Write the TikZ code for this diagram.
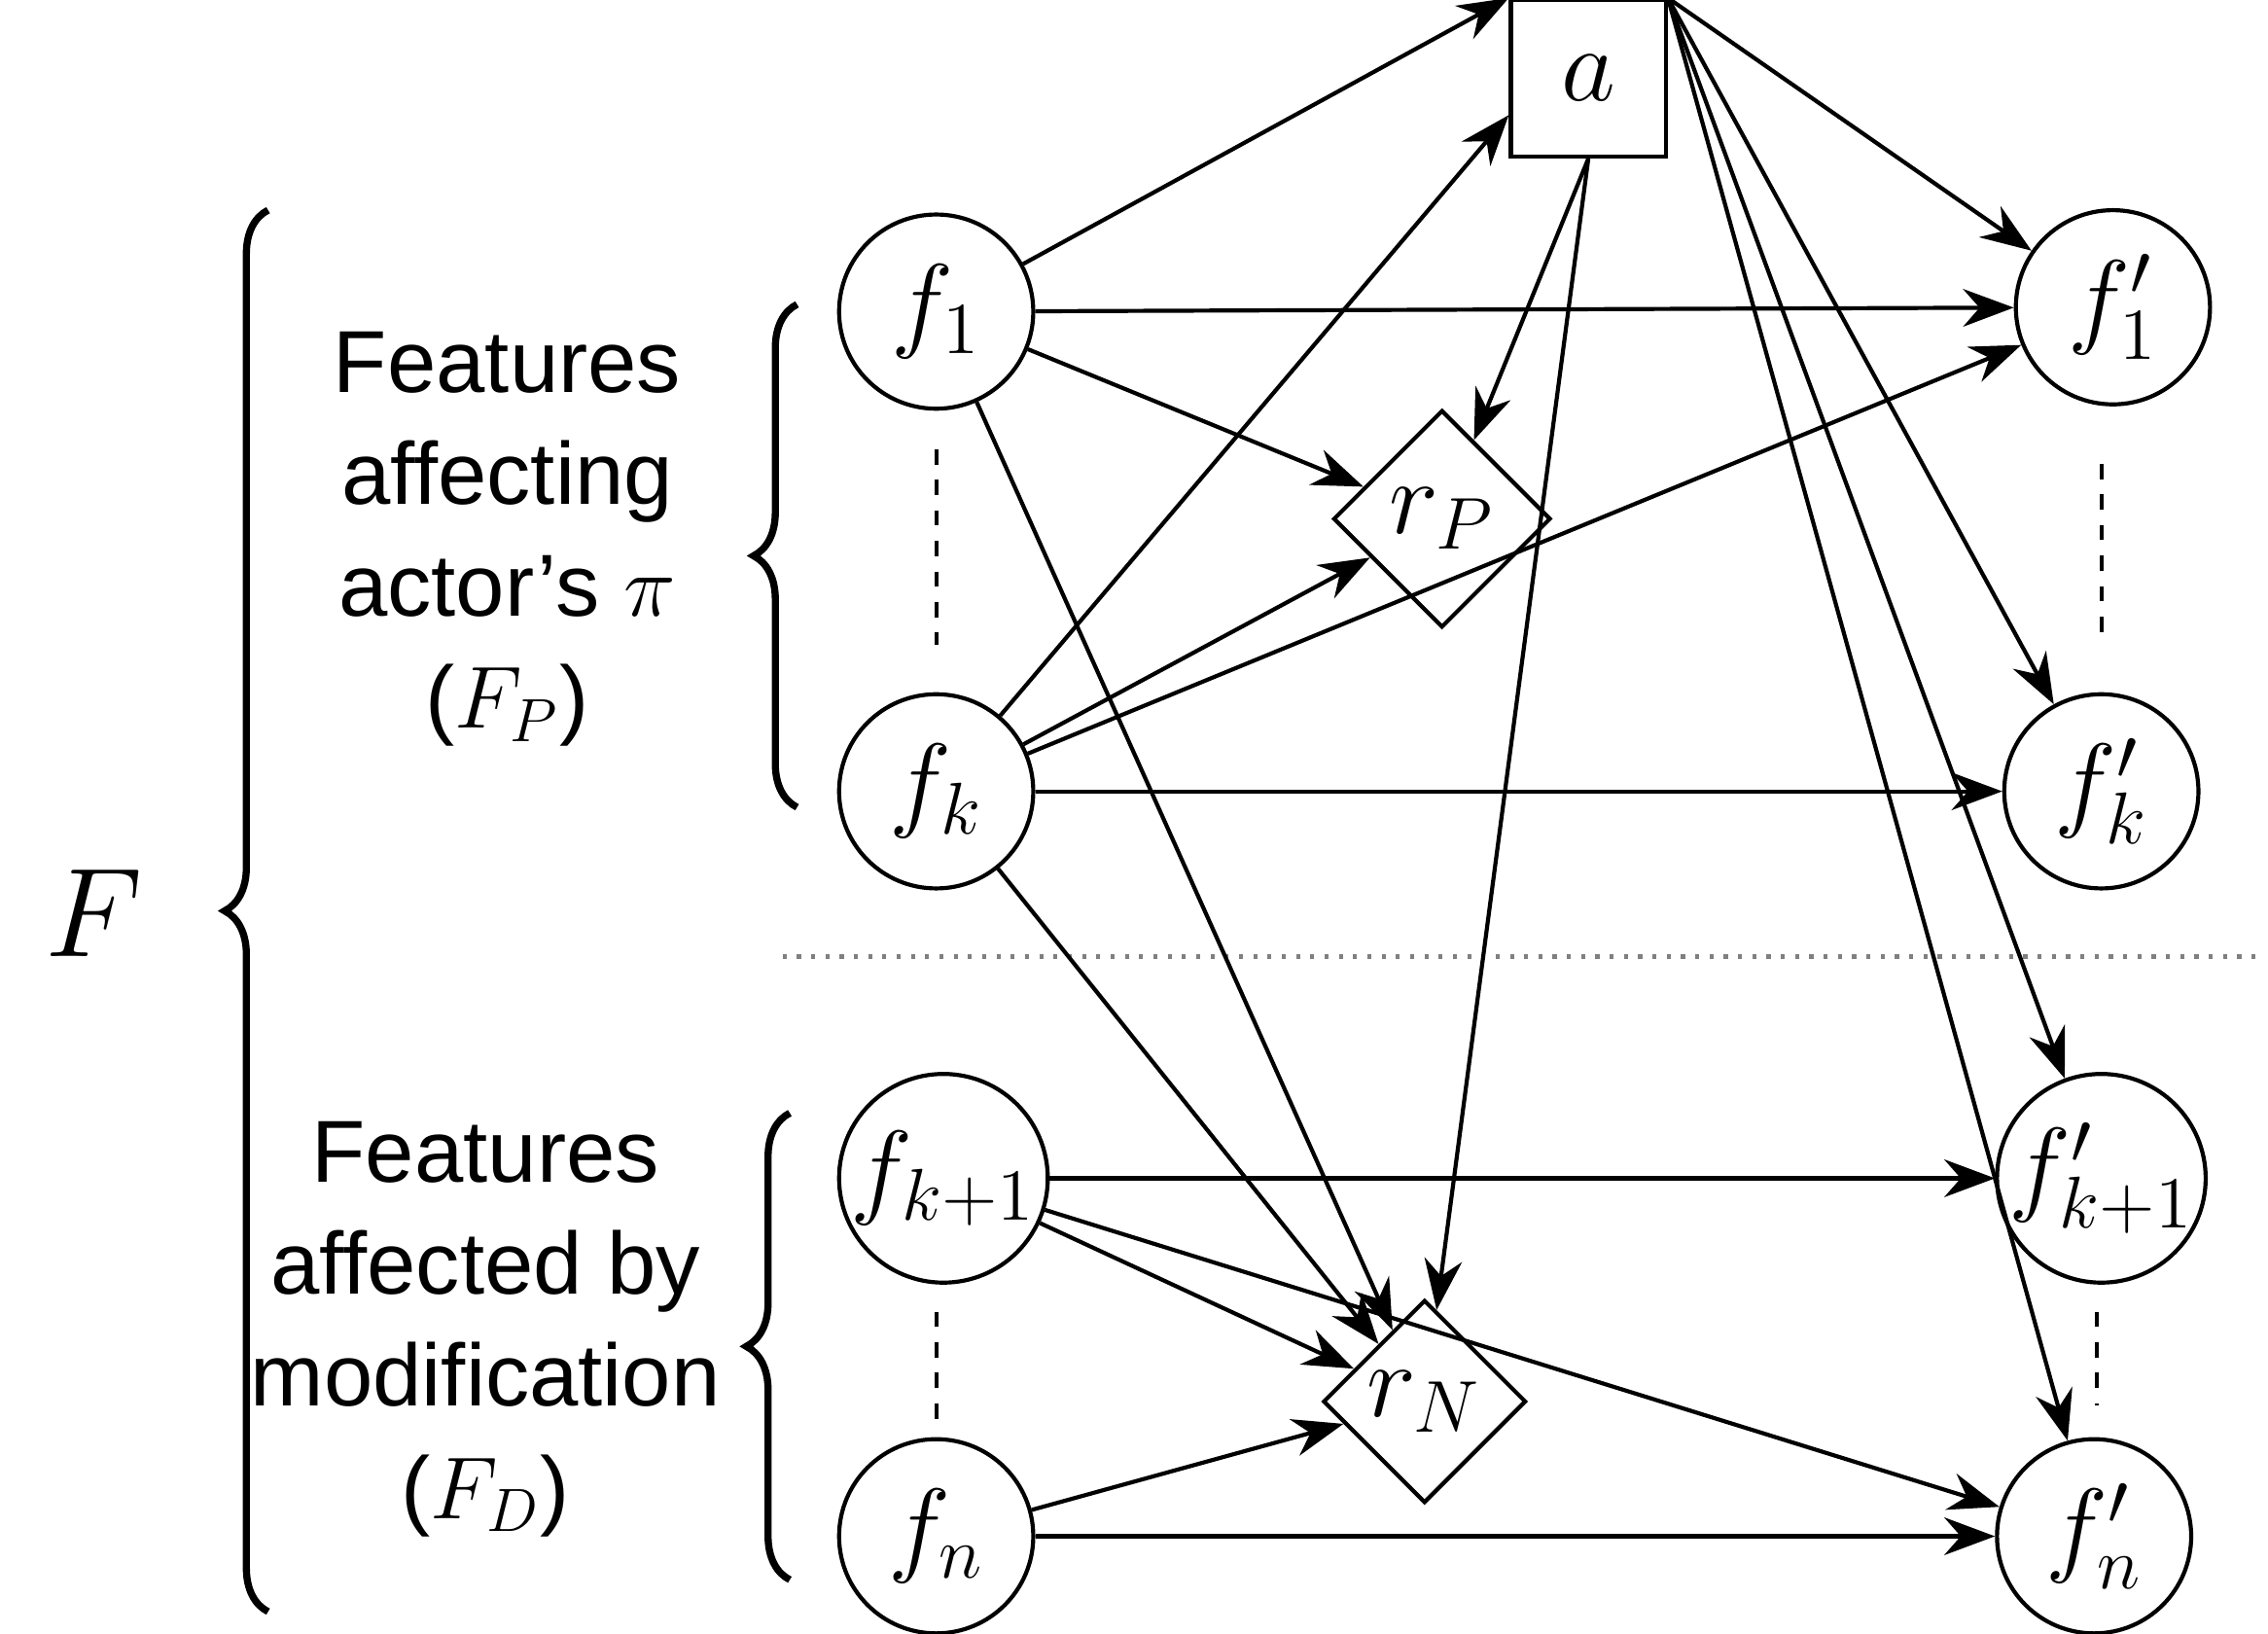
\documentclass[tikz,border=0pt]{standalone}
\usepackage{fontspec}
\setsansfont{Liberation Sans}
\usetikzlibrary{shapes.geometric,arrows.meta,decorations.pathreplacing}

\begin{document}
\begin{tikzpicture}[x=0.1mm,y=-0.1mm,
feat/.style={circle,draw,thick,minimum size=13.4mm,inner sep=0mm,font=\huge},
rew/.style={diamond,draw,thick,minimum size=15mm,inner sep=0mm,font=\huge},
act/.style={rectangle,draw,thick,minimum width=10.7mm,minimum height=10.8mm,font=\huge},
arr/.style={-{Stealth[length=3.5mm,width=2.6mm]},thick},
lab/.style={align=center,font=\sffamily\LARGE},
brc/.style={decorate,decoration={brace,amplitude=3mm},line width=1.4pt}
]
\useasboundingbox (0,0) rectangle (1565,1127);
% nodes
\node[act] (a) at (1096,54) {$a$};
\node[feat] (f1) at (646,215) {$f_1$};
\node[feat] (fk) at (646,546) {$f_k$};
\node[feat,minimum size=14.4mm] (fk1) at (651,813) {$f_{k+1}$};
\node[feat] (fn) at (646,1060) {$f_n$};
\node[feat] (g1) at (1458,212) {$f'_1$};
\node[feat] (gk) at (1450,546) {$f'_k$};
\node[feat,minimum size=14.4mm,inner sep=-2mm] (gk1) at (1450,813) {$f'_{k+1}$};
\node[feat] (gn) at (1445,1060) {$f'_n$};
\node[rew] (rp) at (995,358) {$r_P$};
\node[rew,minimum size=14mm] (rn) at (983,967) {$r_N$};
% dashed separators
\draw[dashed,thick] (646,310) -- (646,445);
\draw[dashed,thick] (1450,320) -- (1450,440);
\draw[dashed,thick] (646,905) -- (646,980);
\draw[dashed,thick] (1447,905) -- (1447,970);
\draw[dotted,thick,gray] (540,660) -- (1560,660);
% braces and labels
\draw[brc] (185,1112) -- (185,145);
\node[font=\Huge] (F) at (65,630) {$F$};
\draw[brc] (550,557) -- (550,210);
\node[lab] (lp) at (350,372) {Features\\affecting\\actor's $\pi$\\($F_P$)};
\draw[brc] (545,1090) -- (545,768);
\node[lab] (ld) at (335,917) {Features\\affected by\\modification\\($F_D$)};
% edges
\draw[arr] (f1) -- (a.north west);
\draw[arr] (f1) -- (g1);
\draw[arr] (f1) -- (rp);
\draw[arr] (f1) -- (rn);
\draw[arr] (fk) -- ([yshift=3mm]a.south west);
\draw[arr] (fk) -- (rp);
\draw[arr] (fk) -- (g1);
\draw[arr] (fk) -- (gk);
\draw[arr] (fk) -- (rn);
\draw[arr] (fk1) -- (gk1);
\draw[arr] (fk1) -- (rn);
\draw[arr] (fk1) -- (gn);
\draw[arr] (fn) -- (rn);
\draw[arr] (fn) -- (gn);
\draw[arr] (a.south) -- (rp);
\draw[arr] (a.south) -- (rn);
\draw[arr] (a.north east) -- (g1);
\draw[arr] (a.north east) -- (gk);
\draw[arr] (a.north east) -- (gk1);
\draw[arr] (a.north east) -- (gn);
\end{tikzpicture}
\end{document}
